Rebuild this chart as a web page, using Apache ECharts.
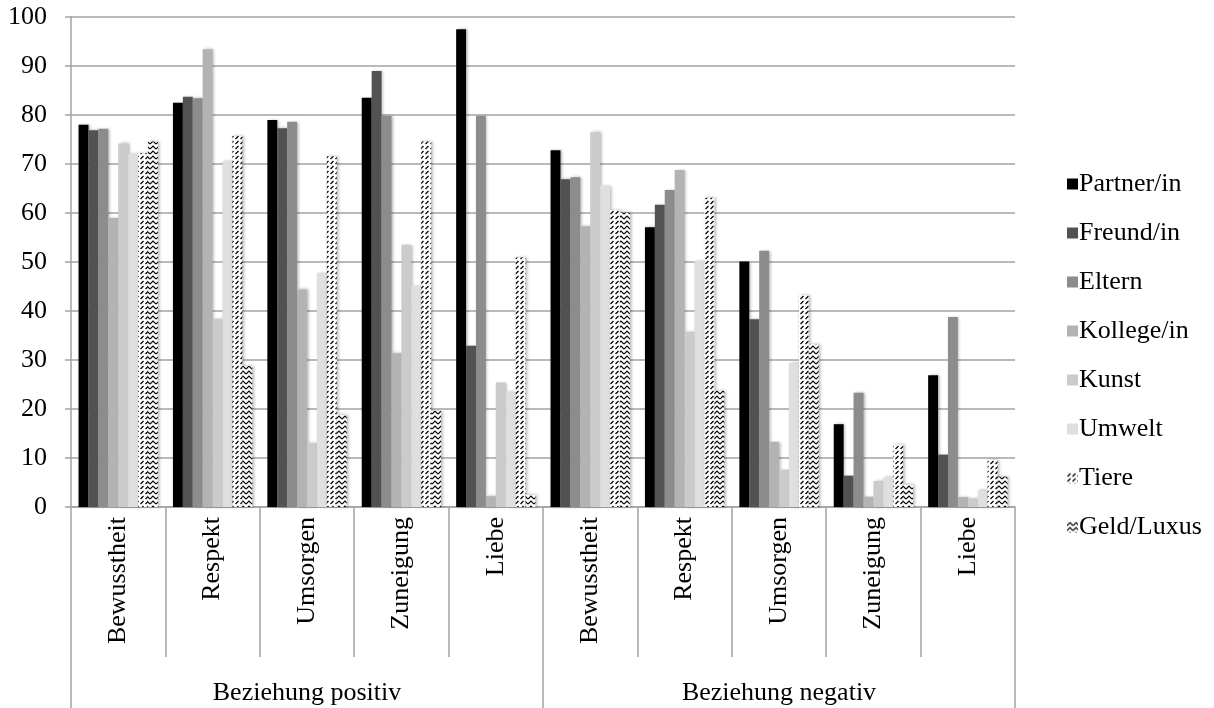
<!DOCTYPE html>
<html>
<head>
<meta charset="utf-8">
<script src="https://cdn.jsdelivr.net/npm/echarts@6/dist/echarts.min.js"></script>
<style>
  html, body { margin: 0; padding: 0; background: #ffffff; }
  #chart { width: 1214px; height: 708px; }
</style>
</head>
<body>
<div id="chart"></div>
<script>
// Categories (two relationship groups, five aspects each)
const aspects = ['Bewusstheit', 'Respekt', 'Umsorgen', 'Zuneigung', 'Liebe',
                 'Bewusstheit', 'Respekt', 'Umsorgen', 'Zuneigung', 'Liebe'];
const groups = ['Beziehung positiv', 'Beziehung negativ'];
const yTicks = [0, 10, 20, 30, 40, 50, 60, 70, 80, 90, 100];

// Series values, one per aspect in the order above
const partner  = [78.0, 82.5, 79.0, 83.5, 97.5, 72.8, 57.1, 50.1, 16.9, 26.9];
const freund   = [76.9, 83.7, 77.3, 89.0, 32.9, 66.9, 61.7, 38.3, 6.4, 10.7];
const eltern   = [77.2, 83.4, 78.6, 79.8, 79.8, 67.3, 64.7, 52.3, 23.3, 38.8];
const kollege  = [59.0, 93.4, 44.4, 31.4, 2.2, 57.3, 68.8, 13.3, 2.1, 2.0];
const kunst    = [74.2, 38.3, 13.0, 53.5, 25.4, 76.5, 35.7, 7.6, 5.3, 1.7];
const umwelt   = [72.0, 70.6, 47.8, 45.2, 23.4, 65.6, 50.2, 29.3, 6.1, 3.4];
const tiere    = [72.2, 75.7, 71.6, 74.6, 50.9, 60.6, 63.1, 43.2, 12.8, 9.6];
const geld     = [74.6, 28.8, 18.9, 19.6, 2.5, 60.1, 23.7, 33.2, 4.6, 6.2];

const seriesNames = ['Partner/in', 'Freund/in', 'Eltern', 'Kollege/in', 'Kunst', 'Umwelt', 'Tiere', 'Geld/Luxus'];
const seriesValues = [partner, freund, eltern, kollege, kunst, umwelt, tiere, geld];

// Fill patterns for the two hatched series
function makeTile(w, h, draw) {
  const c = document.createElement('canvas');
  c.width = w; c.height = h;
  const ctx = c.getContext('2d');
  ctx.fillStyle = '#ffffff';
  ctx.fillRect(0, 0, w, h);
  ctx.strokeStyle = '#000000';
  ctx.lineWidth = 1.2;
  draw(ctx);
  return c;
}
// short upward diagonal dashes
const dashTile = makeTile(5, 5, ctx => {
  ctx.beginPath();
  ctx.moveTo(0.5, 4); ctx.lineTo(3.5, 1);
  ctx.stroke();
});
// zigzag rows
const chevronTile = makeTile(6, 5, ctx => {
  ctx.beginPath();
  ctx.moveTo(0, 4); ctx.lineTo(3, 1); ctx.lineTo(6, 4);
  ctx.stroke();
});

const fills = ['#000000', '#525252', '#8c8c8c', '#b3b3b3', '#cbcbcb', '#dfdfdf',
  { image: dashTile, repeat: 'repeat' },
  { image: chevronTile, repeat: 'repeat' }];

const serif = '"Liberation Serif", "DejaVu Serif", serif';
const gridGray = '#a3a3a3';
const fontSize = 26;

const chart = echarts.init(document.getElementById('chart'));
chart.setOption({
  animation: false,
  backgroundColor: '#ffffff',
  grid: { left: 71, right: 199, top: 17, bottom: 201, containLabel: false },
  legend: {
    orient: 'vertical',
    left: 1062,
    top: 166,
    itemWidth: 11,
    itemHeight: 11,
    itemGap: 23,
    icon: 'rect',
    textStyle: { fontFamily: serif, fontSize: fontSize, color: '#000000', padding: [0, 0, 0, -4] },
    data: seriesNames
  },
  xAxis: [
    {
      type: 'category',
      data: aspects,
      position: 'bottom',
      axisLine: { show: true, lineStyle: { color: gridGray, width: 1.5 } },
      axisTick: { show: true, interval: 0, length: 150, alignWithLabel: false,
                  lineStyle: { color: gridGray, width: 1.5 } },
      axisLabel: { interval: 0, rotate: 90, margin: 10, fontFamily: serif, fontSize: fontSize, color: '#000000' },
      splitLine: { show: false }
    },
    {
      type: 'category',
      data: groups,
      position: 'bottom',
      offset: 150,
      axisLine: { show: false },
      axisTick: { show: true, interval: 0, length: 52, alignWithLabel: false,
                  lineStyle: { color: gridGray, width: 1.5 } },
      axisLabel: { interval: 0, margin: 23, fontFamily: serif, fontSize: fontSize, color: '#000000' },
      splitLine: { show: false }
    }
  ],
  yAxis: {
    type: 'value',
    min: yTicks[0],
    max: yTicks[yTicks.length - 1],
    interval: 10,
    axisLine: { show: true, lineStyle: { color: gridGray, width: 1.5 } },
    axisTick: { show: true, length: 6, lineStyle: { color: gridGray, width: 1.5 } },
    axisLabel: { margin: 24, fontFamily: serif, fontSize: fontSize, color: '#000000' },
    splitLine: { show: true, lineStyle: { color: gridGray, width: 1.5 } }
  },
  series: seriesNames.map((name, i) => ({
    name: name,
    type: 'bar',
    xAxisIndex: 0,
    data: seriesValues[i],
    barGap: '0%',
    barCategoryGap: '16%',
    itemStyle: {
      color: fills[i],
      shadowColor: 'rgba(0,0,0,0.3)',
      shadowBlur: 3,
      shadowOffsetX: 1.5,
      shadowOffsetY: 0
    }
  }))
});
</script>
</body>
</html>
